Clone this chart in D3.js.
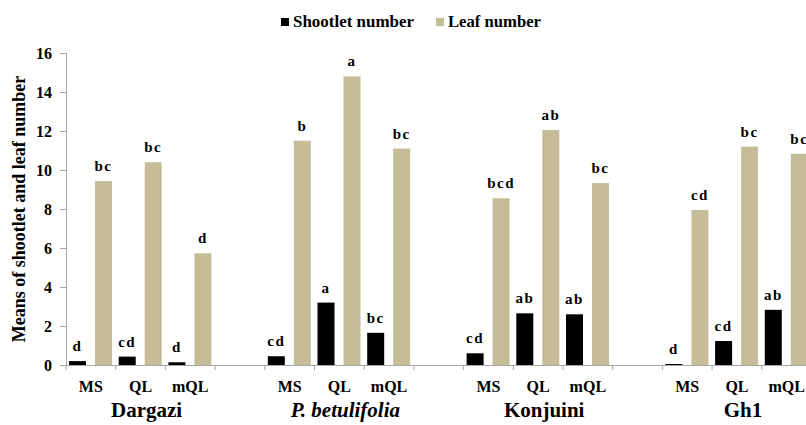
<!DOCTYPE html>
<html>
<head>
<meta charset="utf-8">
<script src="https://cdn.jsdelivr.net/npm/d3@7"></script>
<style>
  html, body { margin: 0; padding: 0; background: #fff; }
  svg { display: block; }
</style>
</head>
<body>
<svg id="chart" width="806" height="425"></svg>
<script>
const groups = ["Dargazi", "P. betulifolia", "Konjuini", "Gh1"];
const media = ["MS", "QL", "mQL"];
const seriesNames = ["Shootlet number", "Leaf number"];
const shootlet = [[0.20, 0.43, 0.14], [0.45, 3.20, 1.65], [0.60, 2.65, 2.60], [0.05, 1.23, 2.83]];
const leaf = [[9.43, 10.40, 5.73], [11.50, 14.80, 11.10], [8.55, 12.05, 9.33], [7.95, 11.20, 10.83]];
const shootletLetters = [["d", "cd", "d"], ["cd", "a", "bc"], ["cd", "ab", "ab"], ["d", "cd", "ab"]];
const leafLetters = [["bc", "bc", "d"], ["b", "a", "bc"], ["bcd", "ab", "bc"], ["cd", "bc", "bc"]];
const yTicks = [0, 2, 4, 6, 8, 10, 12, 14, 16];
const colors = ["#000000", "#C4BD97"];

(function () {
const FONT = "'Liberation Serif'";
const svg = d3.select("#chart");
const mLeft = 66, mTop = 53, mBottom = 365;
const slotW = 49.7;
const nSlots = groups.length * 4 - 1;

const y = d3.scaleLinear().domain([0, 16]).range([mBottom, mTop]);
const x = d3.scaleBand().domain(d3.range(nSlots)).range([mLeft, mLeft + nSlots * slotW]).padding(0);
const sub = d3.scaleBand().domain([0, 1]).range([3, 46]).paddingInner(9 / 26).paddingOuter(0);

const rows = [];
groups.forEach((g, gi) => {
  media.forEach((m, mi) => {
    const slot = gi * 4 + mi;
    rows.push({ g, gi, m, mi, slot, s: 0, v: shootlet[gi][mi], lab: shootletLetters[gi][mi] });
    rows.push({ g, gi, m, mi, slot, s: 1, v: leaf[gi][mi], lab: leafLetters[gi][mi] });
  });
});

const axisColor = "#A6A6A6";
const yAxis = d3.axisLeft(y).tickValues(yTicks).tickSize(6).tickPadding(8).tickFormat(d3.format("d"));
const ya = svg.append("g").attr("transform", `translate(${mLeft},0)`).call(yAxis)
  .attr("font-family", FONT).attr("font-weight", "bold").attr("font-size", 16);
ya.select(".domain").attr("stroke", axisColor);
ya.selectAll(".tick line").attr("stroke", axisColor);
ya.selectAll(".tick text").attr("fill", "#000");

svg.append("line").attr("x1", mLeft).attr("x2", 806).attr("y1", mBottom + 0.5).attr("y2", mBottom + 0.5)
  .attr("stroke", axisColor);
svg.selectAll(".xt").data(d3.range(nSlots + 1)).join("line")
  .attr("x1", i => (i < nSlots ? x(i) : x(nSlots - 1) + x.bandwidth()))
  .attr("x2", i => (i < nSlots ? x(i) : x(nSlots - 1) + x.bandwidth()))
  .attr("y1", mBottom).attr("y2", mBottom + 5).attr("stroke", axisColor);

svg.selectAll(".bar").data(rows).join("rect")
  .attr("x", d => x(d.slot) + sub(d.s))
  .attr("width", sub.bandwidth())
  .attr("y", d => y(d.v))
  .attr("height", d => y(0) - y(d.v))
  .attr("fill", d => colors[d.s]);

const T = svg.append("g").attr("font-family", FONT).attr("font-weight", "bold").attr("fill", "#000");

T.selectAll(".lab").data(rows).join("text")
  .attr("x", d => x(d.slot) + sub(d.s) + sub.bandwidth() / 2)
  .attr("y", d => y(d.v) - 10)
  .attr("text-anchor", "middle")
  .attr("font-size", 15).attr("letter-spacing", 1.5)
  .text(d => d.lab);

const medRows = [];
groups.forEach((g, gi) => media.forEach((m, mi) => medRows.push({ slot: gi * 4 + mi, m })));
T.selectAll(".med").data(medRows).join("text")
  .attr("x", d => x(d.slot) + x.bandwidth() / 2)
  .attr("y", 392)
  .attr("text-anchor", "middle")
  .attr("font-size", 16)
  .text(d => d.m);

T.selectAll(".grp").data(groups).join("text")
  .attr("x", (g, gi) => x(gi * 4 + 1) + x.bandwidth() / 2 + 6)
  .attr("y", 417)
  .attr("text-anchor", "middle")
  .attr("font-size", 21)
  .attr("font-style", (g, gi) => gi === 1 ? "italic" : "normal")
  .text(g => g);

T.append("text")
  .attr("transform", `translate(25,${(mTop + mBottom) / 2}) rotate(-90)`)
  .attr("text-anchor", "middle")
  .attr("font-size", 18)
  .text("Means of shootlet and leaf number");

const legX = [281, 436];
const legLen = [121, 93];
const leg = T.selectAll(".leg").data(seriesNames).join("g")
  .attr("transform", (d, i) => `translate(${legX[i]},0)`);
leg.append("rect").attr("x", 0).attr("y", 18).attr("width", 8).attr("height", 8).attr("fill", (d, i) => colors[i]);
leg.append("text").attr("x", 12).attr("y", 27).attr("font-size", 16)
  .attr("textLength", (d, i) => legLen[i]).attr("lengthAdjust", "spacingAndGlyphs").text(d => d);
})();
</script>
</body>
</html>
